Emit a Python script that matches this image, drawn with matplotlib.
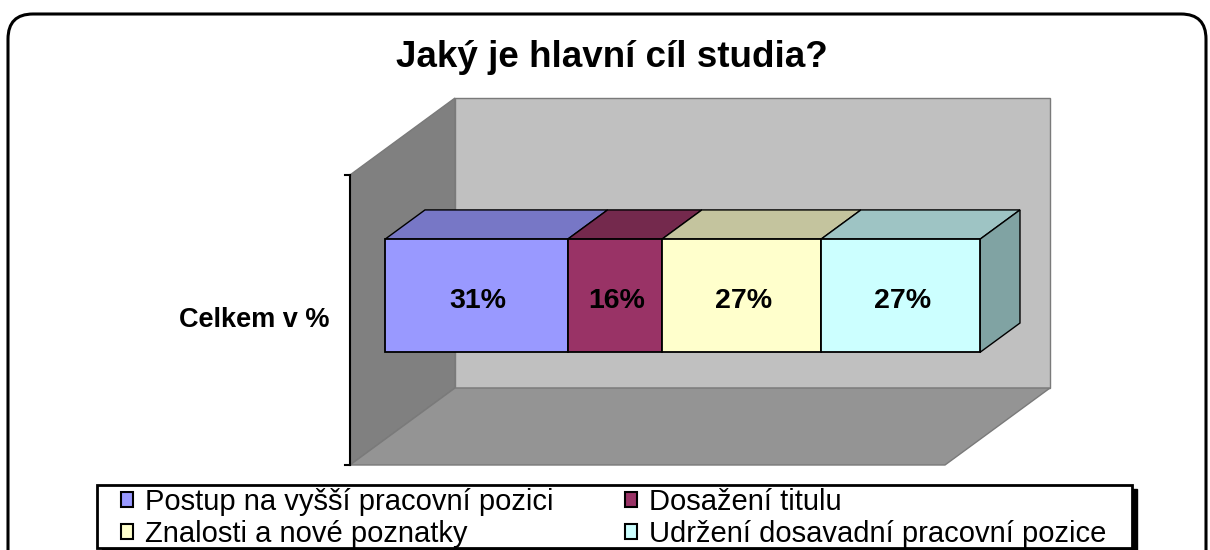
import matplotlib
matplotlib.use("Agg")
import matplotlib.pyplot as plt
from matplotlib.patches import Polygon, Rectangle, FancyBboxPatch, Patch
from matplotlib.transforms import IdentityTransform

plt.rcParams["font.family"] = ["Liberation Sans", "DejaVu Sans"]

TITLE = "Jaký je hlavní cíl studia?"
CATEGORY = "Celkem v %"
SERIES = [
    "Postup na vyšší pracovní pozici",
    "Dosažení titulu",
    "Znalosti a nové poznatky",
    "Udržení dosavadní pracovní pozice",
]
VALUES = [31, 16, 27, 27]
LABELS = ["31%", "16%", "27%", "27%"]
FRONT = ["#9999FF", "#993366", "#FFFFCC", "#CCFFFF"]
TOP = ["#7777C6", "#74294D", "#C4C49E", "#9EC4C4"]
SIDE = ["#6A6AB0", "#5E2140", "#A3A385", "#80A3A3"]

# oblique projection of the 3d box (depth z goes 0..1)
DX = 17.65
DY = 0.2655
PX_Y = 290.0  # pixels per y unit


def proj(x, y, z):
    return (x + z * DX, y + z * DY)


def face(ax, pts, fc, ec, lw, z=1):
    ax.add_patch(Polygon([proj(*p) for p in pts], closed=True,
                         facecolor=fc, edgecolor=ec, linewidth=lw, zorder=z))


fig = plt.figure(figsize=(12.1, 5.5), dpi=100)
ax = fig.add_axes([0, 0, 1, 1])
ax.set_xlim(-350 / 5.95, (1210 - 350) / 5.95)
ax.set_ylim((465 - 550) / PX_Y, 465 / PX_Y)
ax.axis("off")

total = sum(VALUES)
xmax = 100.0

# walls and floor
wall_ec = "#7a7a7a"
face(ax, [(0, 0, 1), (xmax, 0, 1), (xmax, 1, 1), (0, 1, 1)], "#C0C0C0", wall_ec, 1.0)
face(ax, [(0, 0, 0), (0, 0, 1), (0, 1, 1), (0, 1, 0)], "#808080", wall_ec, 1.0)
face(ax, [(0, 0, 0), (xmax, 0, 0), (xmax, 0, 1), (0, 0, 1)], "#949494", wall_ec, 1.0)

# value axis line with end ticks
ax.plot([0, 0], [0, 1], color="black", lw=1.5, zorder=3)
for yt in (0, 1):
    ax.plot([-0.9, 0], [yt, yt], color="black", lw=1.5, zorder=3)

# stacked 100% bar
y0, y1 = 0.30, 0.69
z0, z1 = 0.333, 0.714
left = 0.0
for i, v in enumerate(VALUES):
    w = v / total * xmax
    x0, x1 = left, left + w
    face(ax, [(x0, y1, z0), (x1, y1, z0), (x1, y1, z1), (x0, y1, z1)], TOP[i], "black", 1.0, 4)
    face(ax, [(x0, y0, z0), (x1, y0, z0), (x1, y1, z0), (x0, y1, z0)], FRONT[i], "black", 1.3, 5)
    if i == len(VALUES) - 1:
        face(ax, [(x1, y0, z0), (x1, y0, z1), (x1, y1, z1), (x1, y1, z0)], SIDE[i], "black", 1.0, 4)
    cx, cy = proj((x0 + x1) / 2, (y0 + y1) / 2, z0)
    ax.text(cx + 0.3, cy - 12 / PX_Y, LABELS[i], ha="center", va="baseline",
            fontsize=20.5, fontweight="bold", zorder=6)
    left = x1

ax.text(-3.4, (y0 + y1) / 2 - 6 / PX_Y, CATEGORY, ha="right", va="baseline",
        fontsize=19.5, fontweight="bold")

fig.text(612 / 1210, 1 - 67 / 550, TITLE, ha="center", va="baseline",
         fontsize=26.5, fontweight="bold")

# legend frame with shadow
px = IdentityTransform()
fig.patches.append(Rectangle((102, 550 - 552), 1035, 63, transform=px,
                             facecolor="black", edgecolor="black", zorder=1))
fig.patches.append(Rectangle((97, 550 - 548), 1035, 63, transform=px,
                             facecolor="white", edgecolor="black", lw=2, zorder=2))

handles = [Patch(facecolor=c, edgecolor="black", linewidth=1.5) for c in FRONT]
order = [0, 2, 1, 3]
leg = fig.legend([handles[i] for i in order], [SERIES[i] for i in order],
                 ncol=2, loc="upper left", bbox_to_anchor=(121 / 1210, 1 - 488 / 550),
                 frameon=False, fontsize=21, handlelength=0.42, handleheight=0.42,
                 handletextpad=0.4, columnspacing=2.45, labelspacing=0.13,
                 borderpad=0, borderaxespad=0)
leg.set_zorder(3)

# rounded outer border
fig.patches.append(FancyBboxPatch((8, -40), 1198, 576, transform=px,
                                  boxstyle="round,pad=0,rounding_size=25",
                                  facecolor="none", edgecolor="black", lw=2.2,
                                  zorder=10))

fig.savefig("out.png", dpi=100)
